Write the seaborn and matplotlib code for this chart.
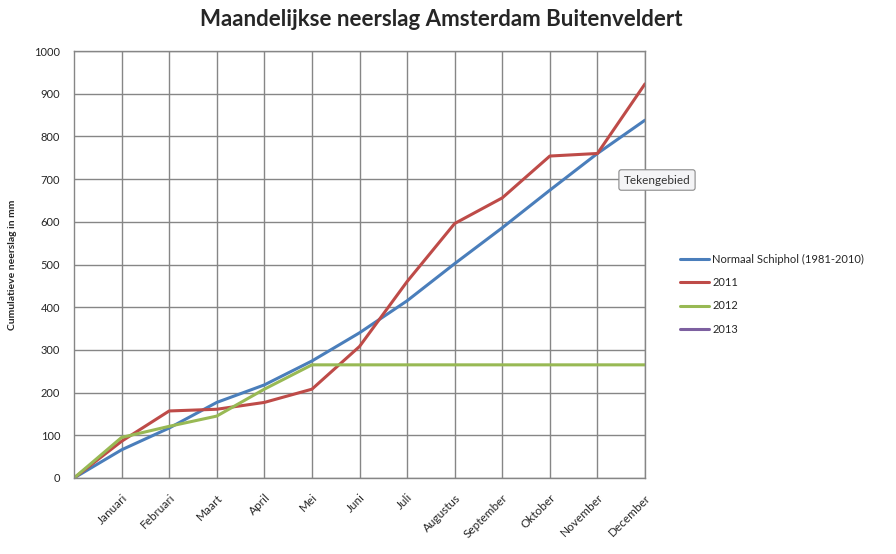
import numpy as np
import pandas as pd
import matplotlib
matplotlib.use("Agg")
import matplotlib.pyplot as plt
import seaborn as sns
from matplotlib.lines import Line2D

# ---------------------------------------------
# DATA (cumulative precipitation, mm)
# ---------------------------------------------
months = ["", "Januari", "Februari", "Maart", "April", "Mei", "Juni", "Juli",
          "Augustus", "September", "Oktober", "November", "December"]
normaal = [0, 66, 117, 177, 218, 274, 340, 415, 502, 586, 674, 760, 838]
y2011 = [0, 86, 157, 161, 177, 208, 308, 460, 596, 656, 754, 760, 923]
y2012 = [0, 95, 121, 145, 208, 265, 265, 265, 265, 265, 265, 265, 265]
y2013 = []  # nog geen data

series_names = ["Normaal Schiphol (1981-2010)", "2011", "2012", "2013"]
colors = ["#4A7EBB", "#BE4B48", "#98B954", "#7D60A0"]

rows = []
for name, vals in zip(series_names, [normaal, y2011, y2012, y2013]):
    for i, v in enumerate(vals):
        rows.append({"pos": i, "maand": months[i], "mm": v, "reeks": name})
df = pd.DataFrame(rows)

# ---------------------------------------------
# PLOT
# ---------------------------------------------
sns.set_style("white")
plt.rcParams["font.family"] = ["Lato", "DejaVu Sans"]

fig = plt.figure(figsize=(8.96, 5.54), dpi=100)
ax = fig.add_axes([74 / 896, 1 - 478 / 554, (645 - 74) / 896, (478 - 51) / 554])

palette = dict(zip(series_names, colors))
sns.lineplot(data=df, x="pos", y="mm", hue="reeks", hue_order=series_names[:3],
             palette=palette, linewidth=2.2, ax=ax, legend=False)

ax.set_xlim(0, 12)
ax.set_ylim(0, 1000)
ax.set_yticks(np.arange(0, 1001, 100))
ax.set_xticks(range(1, 13))
ax.set_xticklabels(months[1:], rotation=45, ha="right", rotation_mode="anchor",
                   fontsize=8.5)
ax.tick_params(axis="y", labelsize=8, length=4, color="#868686", pad=6)
ax.tick_params(axis="x", length=4, color="#868686", pad=6)
ax.grid(True, color="#868686", linewidth=1)
for s in ax.spines.values():
    s.set_color("#868686")
    s.set_linewidth(1)
ax.set_xlabel("")
ax.set_ylabel("Cumulatieve neerslag in mm", fontsize=7.5, fontweight="bold",
              labelpad=12)

fig.text(441 / 896, 1 - 20 / 554, "Maandelijkse neerslag Amsterdam Buitenveldert",
         fontsize=16, fontweight="bold", ha="center", va="center")

handles = [Line2D([], [], color=c, linewidth=2.2) for c in colors]
fig.legend(handles, series_names, loc="upper left",
           bbox_to_anchor=(670 / 896, 1 - 244 / 554), frameon=False,
           fontsize=8, handlelength=2.6, labelspacing=1.1, handletextpad=0.3)

# tooltip uit de screenshot
fig.text(657 / 896, 1 - 180 / 554, "Tekengebied", fontsize=8.5, ha="center",
         va="center", color="#333333",
         bbox=dict(boxstyle="round,pad=0.4,rounding_size=0.2", fc="#F4F4F6",
                   ec="#8A8A8A", lw=0.8))

fig.savefig("out.png", dpi=100)
